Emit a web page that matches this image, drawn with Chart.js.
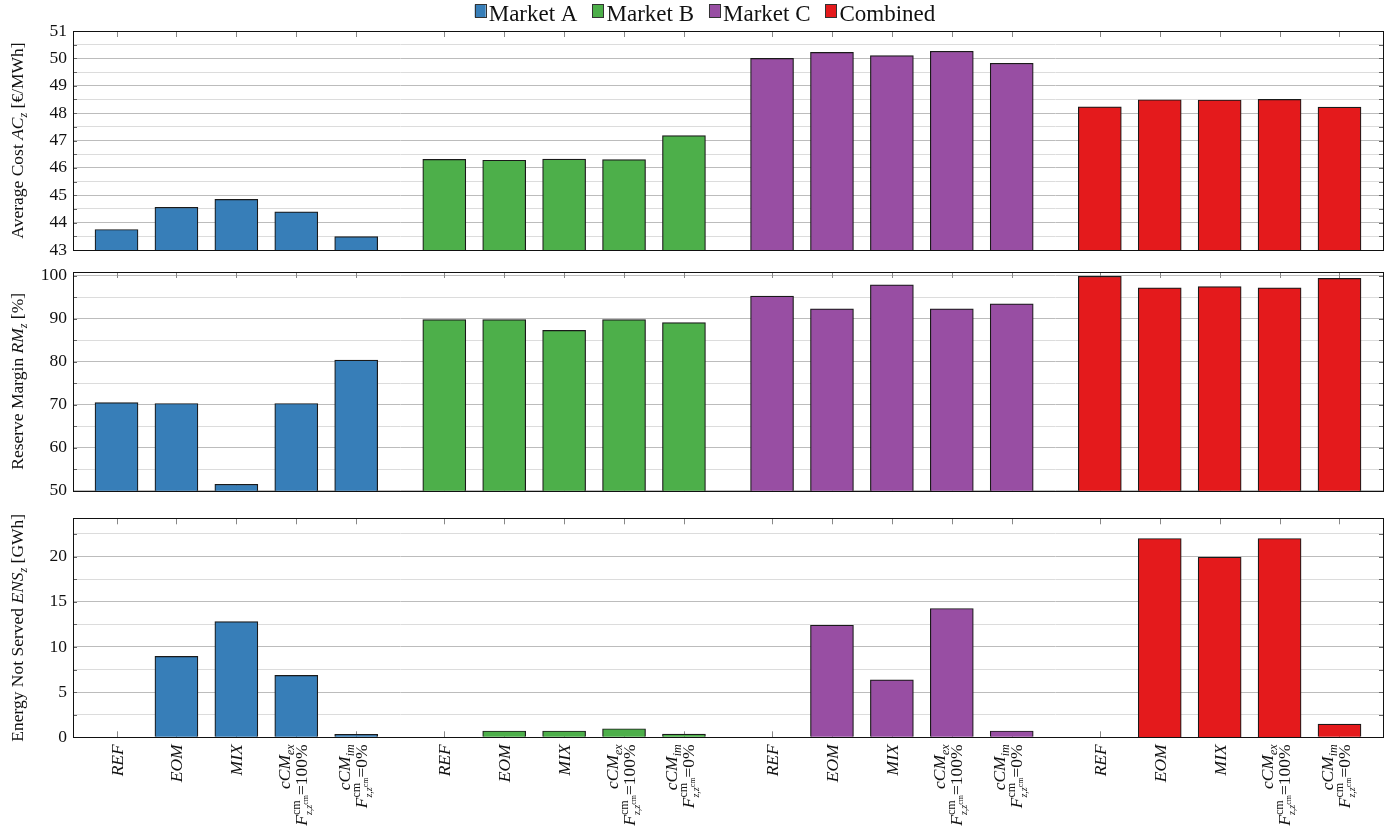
<!DOCTYPE html>
<html><head><meta charset="utf-8">
<script src="https://cdn.jsdelivr.net/npm/chart.js@4.4.1/dist/chart.umd.min.js"></script>
<style>
html,body{margin:0;padding:0;background:#fff;width:1395px;height:836px;overflow:hidden;}
.p{position:absolute;left:0;width:1395px;}
canvas{display:block;}
</style></head><body>
<div class="p" style="top:0px;height:270px"><canvas id="c1" width="1395" height="270"></canvas></div>
<div class="p" style="top:250px;height:260px"><canvas id="c2" width="1395" height="260"></canvas></div>
<div class="p" style="top:500px;height:336px"><canvas id="c3" width="1395" height="336"></canvas></div>
<script>
// ---------------- data ----------------
const markets = ['Market A', 'Market B', 'Market C', 'Combined'];
const scenarios = ['REF', 'EOM', 'MIX', 'cCMex', 'cCMim'];

const avgCostA = [43.75, 44.56, 44.85, 44.39, 43.49];
const avgCostB = [46.31, 46.28, 46.32, 46.30, 47.18];
const avgCostC = [50.00, 50.22, 50.10, 50.26, 49.82];
const avgCostD = [48.23, 48.49, 48.48, 48.50, 48.22];

const reserveA = [70.5, 70.3, 51.5, 70.3, 80.4];
const reserveB = [89.8, 89.8, 87.3, 89.8, 89.1];
const reserveC = [95.3, 92.3, 97.9, 92.3, 93.5];
const reserveD = [99.9, 97.2, 97.5, 97.2, 99.4];

const ensA = [0, 8.95, 12.8, 6.85, 0.33];
const ensB = [0, 0.7, 0.7, 0.95, 0.35];
const ensC = [0, 12.4, 6.35, 14.25, 0.7];
const ensD = [0, 22.0, 19.93, 22.0, 1.45];

const acTicks  = [43, 44, 45, 46, 47, 48, 49, 50, 51];
const rmTicks  = [50, 60, 70, 80, 90, 100];
const ensTicks = [0, 5, 10, 15, 20];

// ---------------- styling / layout ----------------
const colors = ['#377eb8', '#4daf4a', '#984ea3', '#e41a1c'];
const FONT = '"Liberation Serif", "Times New Roman", serif';
const TXT = '#111';
const GROUP_STRIDE = 5.47;
const XMIN = -0.726, XMAX = 3 * GROUP_STRIDE + 4 + 0.726;
const xPos = (g, i) => g * GROUP_STRIDE + i;
const tickXs = [];
for (let g = 0; g < 4; g++) for (let i = 0; i < 5; i++) tickXs.push(xPos(g, i));

function makeDatasets(series) {
  return series.map((vals, g) => ({
    label: markets[g],
    data: vals.map((v, i) => ({ x: xPos(g, i), y: v })),
    backgroundColor: colors[g],
    borderColor: '#1a1a1a',
    borderWidth: 1.2,
    barThickness: 43,
    grouped: false
  }));
}

// rich text helpers
function segFont(s) { return (s.it ? 'italic ' : '') + s.sz + 'px ' + FONT; }
function rowWidth(ctx, segs) {
  let w = 0;
  for (const s of segs) {
    if (s.stack) { w += Math.max(...s.stack.map(r => rowWidth(ctx, r))); }
    else { ctx.font = segFont(s); w += ctx.measureText(s.t).width; }
  }
  return w;
}
function drawRow(ctx, segs, x, y) {
  let cx = x;
  for (const s of segs) {
    if (s.stack) {
      let mw = 0;
      for (const r of s.stack) { drawRow(ctx, r, cx, y); mw = Math.max(mw, rowWidth(ctx, r)); }
      cx += mw;
    } else {
      ctx.font = segFont(s);
      ctx.fillText(s.t, cx, y + (s.dy || 0));
      cx += ctx.measureText(s.t).width;
    }
  }
}

const S = 17.5, SS = 12, SSS = 9;
function fLine(pct) {
  return [
    { t: 'F', it: true, sz: S },
    { stack: [
      [{ t: 'cm', sz: SS, dy: -7 }],
      [{ t: 'z,z', it: true, sz: SSS + 1, dy: 5 }, { t: 'cm', sz: SSS - 1, dy: 1 }]
    ] },
    { t: '=' + pct, sz: S }
  ];
}
function labelLines(name) {
  if (name === 'cCMex') return [[{ t: 'cCM', it: true, sz: S }, { t: 'ex', it: true, sz: SS, dy: 4 }], fLine('100%')];
  if (name === 'cCMim') return [[{ t: 'cCM', it: true, sz: S }, { t: 'im', it: true, sz: SS, dy: 4 }], fLine('0%')];
  return [[{ t: name, it: true, sz: S }]];
}

function yTitlePlugin(segs) {
  return {
    id: 'ytitle',
    afterDraw(chart) {
      const { ctx, chartArea: a } = chart;
      ctx.save();
      ctx.fillStyle = TXT;
      ctx.textBaseline = 'alphabetic';
      ctx.translate(23, (a.top + a.bottom) / 2);
      ctx.rotate(-Math.PI / 2);
      const w = rowWidth(ctx, segs);
      drawRow(ctx, segs, -w / 2, 0);
      ctx.restore();
    }
  };
}

const framePlugin = {
  id: 'frame',
  beforeDatasetsDraw(chart) {
    const { ctx, chartArea: a, scales: { x } } = chart;
    ctx.save();
    ctx.strokeStyle = '#888';
    ctx.lineWidth = 1;
    ctx.beginPath();
    tickXs.forEach(v => {
      const px = Math.round(x.getPixelForValue(v)) + 0.5;
      ctx.moveTo(px, a.top); ctx.lineTo(px, a.top + 6);
      ctx.moveTo(px, a.bottom); ctx.lineTo(px, a.bottom - 6);
    });
    ctx.stroke();
    ctx.restore();
  },
  afterDatasetsDraw(chart) {
    const { ctx, chartArea: a, scales: { y } } = chart;
    ctx.save();
    ctx.strokeStyle = '#666';
    ctx.lineWidth = 1;
    ctx.beginPath();
    y.ticks.forEach(t => {
      const py = Math.round(y.getPixelForValue(t.value)) + 0.5;
      ctx.moveTo(a.left, py); ctx.lineTo(a.left + 4, py);
      ctx.moveTo(a.right, py); ctx.lineTo(a.right - 4, py);
    });
    ctx.stroke();
    ctx.strokeStyle = '#111';
    ctx.strokeRect(Math.round(a.left) + 0.5, Math.round(a.top) + 0.5, Math.round(a.right - a.left), Math.round(a.bottom - a.top));
    ctx.restore();
  }
};

const legendPlugin = {
  id: 'customLegend',
  afterDraw(chart) {
    const ctx = chart.ctx;
    ctx.save();
    ctx.font = '23px ' + FONT;
    const items = chart.data.datasets.map(d => ({ label: d.label, color: d.backgroundColor, w: ctx.measureText(d.label).width }));
    const box = 11, gap = 3, sep = 15;
    const total = items.reduce((s, it) => s + box + gap + it.w, 0) + sep * (items.length - 1);
    let x = 705 - total / 2;
    items.forEach(it => {
      ctx.fillStyle = it.color;
      ctx.fillRect(x, 4.5, box, 13);
      ctx.strokeStyle = '#333';
      ctx.lineWidth = 1;
      ctx.strokeRect(Math.round(x) + 0.5, 4.5, box, 13);
      ctx.fillStyle = TXT;
      ctx.textBaseline = 'alphabetic';
      ctx.fillText(it.label, x + box + gap, 20.7);
      x += box + gap + it.w + sep;
    });
    ctx.restore();
  }
};

const xLabelPlugin = {
  id: 'xlabels',
  afterDraw(chart) {
    const { ctx, chartArea: a, scales: { x } } = chart;
    ctx.save();
    ctx.fillStyle = TXT;
    ctx.textBaseline = 'alphabetic';
    for (let g = 0; g < 4; g++) {
      scenarios.forEach((name, i) => {
        const px = x.getPixelForValue(xPos(g, i));
        const lines = labelLines(name);
        const offs = lines.length === 1 ? [6] : [-6.5, 10.5];
        ctx.save();
        ctx.translate(px, a.bottom);
        ctx.rotate(-Math.PI / 2);
        lines.forEach((ln, k) => {
          const w = rowWidth(ctx, ln);
          drawRow(ctx, ln, -7 - w, offs[k]);
        });
        ctx.restore();
      });
    }
    ctx.restore();
  }
};

function yScale(min, max, majors) {
  const step = majors[1] - majors[0];
  const minors = majors.map(v => v + step / 2).filter(v => v < max);
  const all = [...majors, ...minors].sort((p, q) => p - q);
  return {
    type: 'linear', min, max,
    afterBuildTicks(s) { s.ticks = all.map(v => ({ value: v })); },
    afterFit(s) { s.width = 73; },
    ticks: {
      autoSkip: false, padding: 6, color: TXT,
      font: { family: FONT, size: 17.5 },
      callback: v => majors.includes(v) ? String(v) : ''
    },
    grid: {
      drawTicks: false, lineWidth: 1,
      color: c => (c.tick && majors.includes(c.tick.value)) ? '#bcbcbc' : '#dcdcdc'
    },
    border: { display: false }
  };
}

function makeChart(id, series, yMin, yMax, majors, pad, plugins) {
  return new Chart(document.getElementById(id), {
    type: 'bar',
    data: { datasets: makeDatasets(series) },
    options: {
      responsive: false, animation: false,
      layout: { padding: pad },
      plugins: { legend: { display: false }, tooltip: { enabled: false } },
      scales: {
        x: { type: 'linear', min: XMIN, max: XMAX, display: false, offset: false },
        y: yScale(yMin, yMax, majors)
      }
    },
    plugins: [framePlugin, ...plugins]
  });
}

makeChart('c1', [avgCostA, avgCostB, avgCostC, avgCostD], 43, 51, acTicks,
  { top: 31, bottom: 20, left: 0, right: 12 },
  [legendPlugin, yTitlePlugin([{ t: 'Average Cost ', sz: S }, { t: 'AC', it: true, sz: S }, { t: 'z', it: true, sz: SS, dy: 4 }, { t: ' [€/MWh]', sz: S }])]);

makeChart('c2', [reserveA, reserveB, reserveC, reserveD], 50, 100.9, rmTicks,
  { top: 22, bottom: 19.3, left: 0, right: 12 },
  [yTitlePlugin([{ t: 'Reserve Margin ', sz: S }, { t: 'RM', it: true, sz: S }, { t: 'z', it: true, sz: SS, dy: 4 }, { t: ' [%]', sz: S }])]);

makeChart('c3', [ensA, ensB, ensC, ensD], 0, 24.23, ensTicks,
  { top: 18.3, bottom: 98.7, left: 0, right: 12 },
  [xLabelPlugin, yTitlePlugin([{ t: 'Energy Not Served ', sz: S }, { t: 'ENS', it: true, sz: S }, { t: 'z', it: true, sz: SS, dy: 4 }, { t: ' [GWh]', sz: S }])]);
</script>
</body></html>
